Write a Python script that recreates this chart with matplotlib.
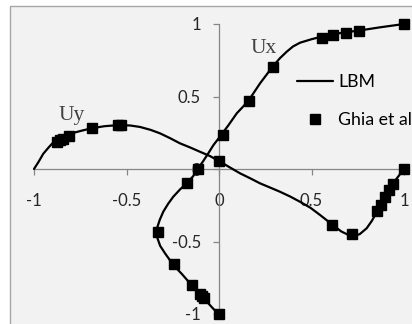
import matplotlib
matplotlib.use("Agg")
import matplotlib.pyplot as plt
from matplotlib.patches import Rectangle

plt.rcParams['font.family'] = ['Lato', 'DejaVu Sans']

# Horizontal velocity along the vertical centreline (Ux, position)
ux_lbm_u = [0.0, -0.03, -0.058, -0.09, -0.12, -0.157, -0.2, -0.247, -0.292, -0.318,
            -0.332, -0.337, -0.333, -0.32, -0.301, -0.275, -0.247, -0.21, -0.175, -0.14,
            -0.115, -0.085, -0.058, -0.03, 0.005, 0.05, 0.096, 0.13, 0.162, 0.222,
            0.29, 0.33, 0.366, 0.4, 0.438, 0.5, 0.555, 0.618, 0.681, 0.753, 0.87, 1.0]
ux_lbm_y = [-1.0, -0.965, -0.926, -0.88, -0.84, -0.788, -0.725, -0.662, -0.581, -0.53,
            -0.48, -0.437, -0.4, -0.35, -0.294, -0.24, -0.191, -0.14, -0.099, -0.05,
            0.0, 0.055, 0.108, 0.165, 0.223, 0.3, 0.384, 0.43, 0.476, 0.591,
            0.706, 0.765, 0.809, 0.845, 0.871, 0.895, 0.913, 0.929, 0.943, 0.954, 0.977, 1.0]

ux_ghia_u = [0.0, -0.0819, -0.0927, -0.1034, -0.1461, -0.243, -0.3273, -0.1712,
             -0.1148, 0.0214, 0.1626, 0.2909, 0.5589, 0.6176, 0.6844, 0.7584, 1.0]
ux_ghia_y = [-1.0, -0.8906, -0.875, -0.8594, -0.7968, -0.6562, -0.4374, -0.0938,
             0.0, 0.2344, 0.4688, 0.7032, 0.9062, 0.9218, 0.9376, 0.9532, 1.0]

# Vertical velocity along the horizontal centreline (position, Uy)
uy_lbm_x = [-1.0, -0.975, -0.95, -0.92, -0.895, -0.85, -0.8, -0.74, -0.688, -0.62,
            -0.544, -0.48, -0.427, -0.37, -0.319, -0.265, -0.211, -0.155, -0.103, -0.05,
            0.0, 0.06, 0.114, 0.17, 0.222, 0.28, 0.33, 0.385, 0.438, 0.495,
            0.546, 0.609, 0.66, 0.7, 0.725, 0.76, 0.798, 0.825, 0.843, 0.865,
            0.89, 0.915, 0.94, 0.97, 1.0]
uy_lbm_v = [0.0, 0.05, 0.105, 0.15, 0.185, 0.22, 0.245, 0.265, 0.281, 0.295,
            0.303, 0.3, 0.29, 0.27, 0.246, 0.213, 0.177, 0.148, 0.119, 0.09,
            0.055, 0.01, -0.03, -0.065, -0.099, -0.13, -0.157, -0.19, -0.226, -0.268,
            -0.317, -0.38, -0.43, -0.455, -0.462, -0.45, -0.409, -0.36, -0.32, -0.265,
            -0.205, -0.15, -0.1, -0.05, 0.0]

uy_ghia_x = [-0.875, -0.8594, -0.8438, -0.8124, -0.6874, -0.5468, -0.5312, 0.0,
             0.6094, 0.7188, 0.854, 0.874, 0.895, 0.917, 0.938, 1.0]
uy_ghia_v = [0.1836, 0.1971, 0.2092, 0.2297, 0.2812, 0.302, 0.3017, 0.0519,
             -0.386, -0.45, -0.29, -0.245, -0.195, -0.148, -0.105, 0.0]

ticks = [-1, -0.5, 0, 0.5, 1]
tick_labels = ['-1', '-0.5', '0', '0.5', '1']

W, H = 412, 324
fig = plt.figure(figsize=(W / 100, H / 100), dpi=100)
fig.patch.set_facecolor('white')

# plot-area panel, drawn beneath the axes
fig.patches.append(Rectangle((10 / W, -0.05), 1.2, 1.05 - 6 / H,
                             transform=fig.transFigure, facecolor='#f2f2f2',
                             edgecolor='#a6a6a6', linewidth=1.0, zorder=-1))

ax = fig.add_axes([0, 0, 1, 1])
ax.set_facecolor('none')
ax.set_xlim(-1 - 34 / 185, 1 + 8 / 185)
ax.set_ylim(-1 - 10 / 145, 1 + 24 / 145)
ax.set_axisbelow(True)

axis_col = '#868686'
for side in ('top', 'right'):
    ax.spines[side].set_visible(False)
ax.spines['left'].set_position(('data', 0))
ax.spines['bottom'].set_position(('data', 0))
ax.spines['left'].set_bounds(-1, 1)
ax.spines['bottom'].set_bounds(-1, 1)
for side in ('left', 'bottom'):
    ax.spines[side].set_color(axis_col)
    ax.spines[side].set_linewidth(0.9)

ax.set_xticks(ticks)
ax.set_xticklabels(tick_labels)
ax.set_yticks(ticks)
ax.set_yticklabels(tick_labels)
ax.tick_params(axis='x', direction='out', length=4, width=0.9, color=axis_col,
               labelsize=12, labelcolor='#262626', pad=13.5)
ax.tick_params(axis='y', direction='out', length=4, width=0.9, color=axis_col,
               labelsize=12, labelcolor='#262626', pad=9)

line_kw = dict(color='black', linewidth=1.6, zorder=3, solid_capstyle='round')
mark_kw = dict(linestyle='none', marker='s', markersize=6.6, color='black', zorder=4)

lbm, = ax.plot(ux_lbm_u, ux_lbm_y, label='LBM', **line_kw)
ax.plot(uy_lbm_x, uy_lbm_v, **line_kw)
ghia, = ax.plot(ux_ghia_u, ux_ghia_y, label='Ghia et al', **mark_kw)
ax.plot(uy_ghia_x, uy_ghia_v, **mark_kw)

ax.text(0.168, 0.80, 'Ux', family='Liberation Serif', fontsize=15.5,
        color='#404040', ha='left', va='baseline')
ax.text(-0.865, 0.338, 'Uy', family='Liberation Serif', fontsize=15.5,
        color='#404040', ha='left', va='baseline')

ax.legend(handles=[lbm, ghia], loc='upper left',
          bbox_to_anchor=(297 / W, 1 - 74 / H), frameon=False,
          fontsize=12.8, handlelength=2.0, handletextpad=0.3,
          labelspacing=1.25, borderpad=0, borderaxespad=0)

fig.savefig('out.png', dpi=100)
